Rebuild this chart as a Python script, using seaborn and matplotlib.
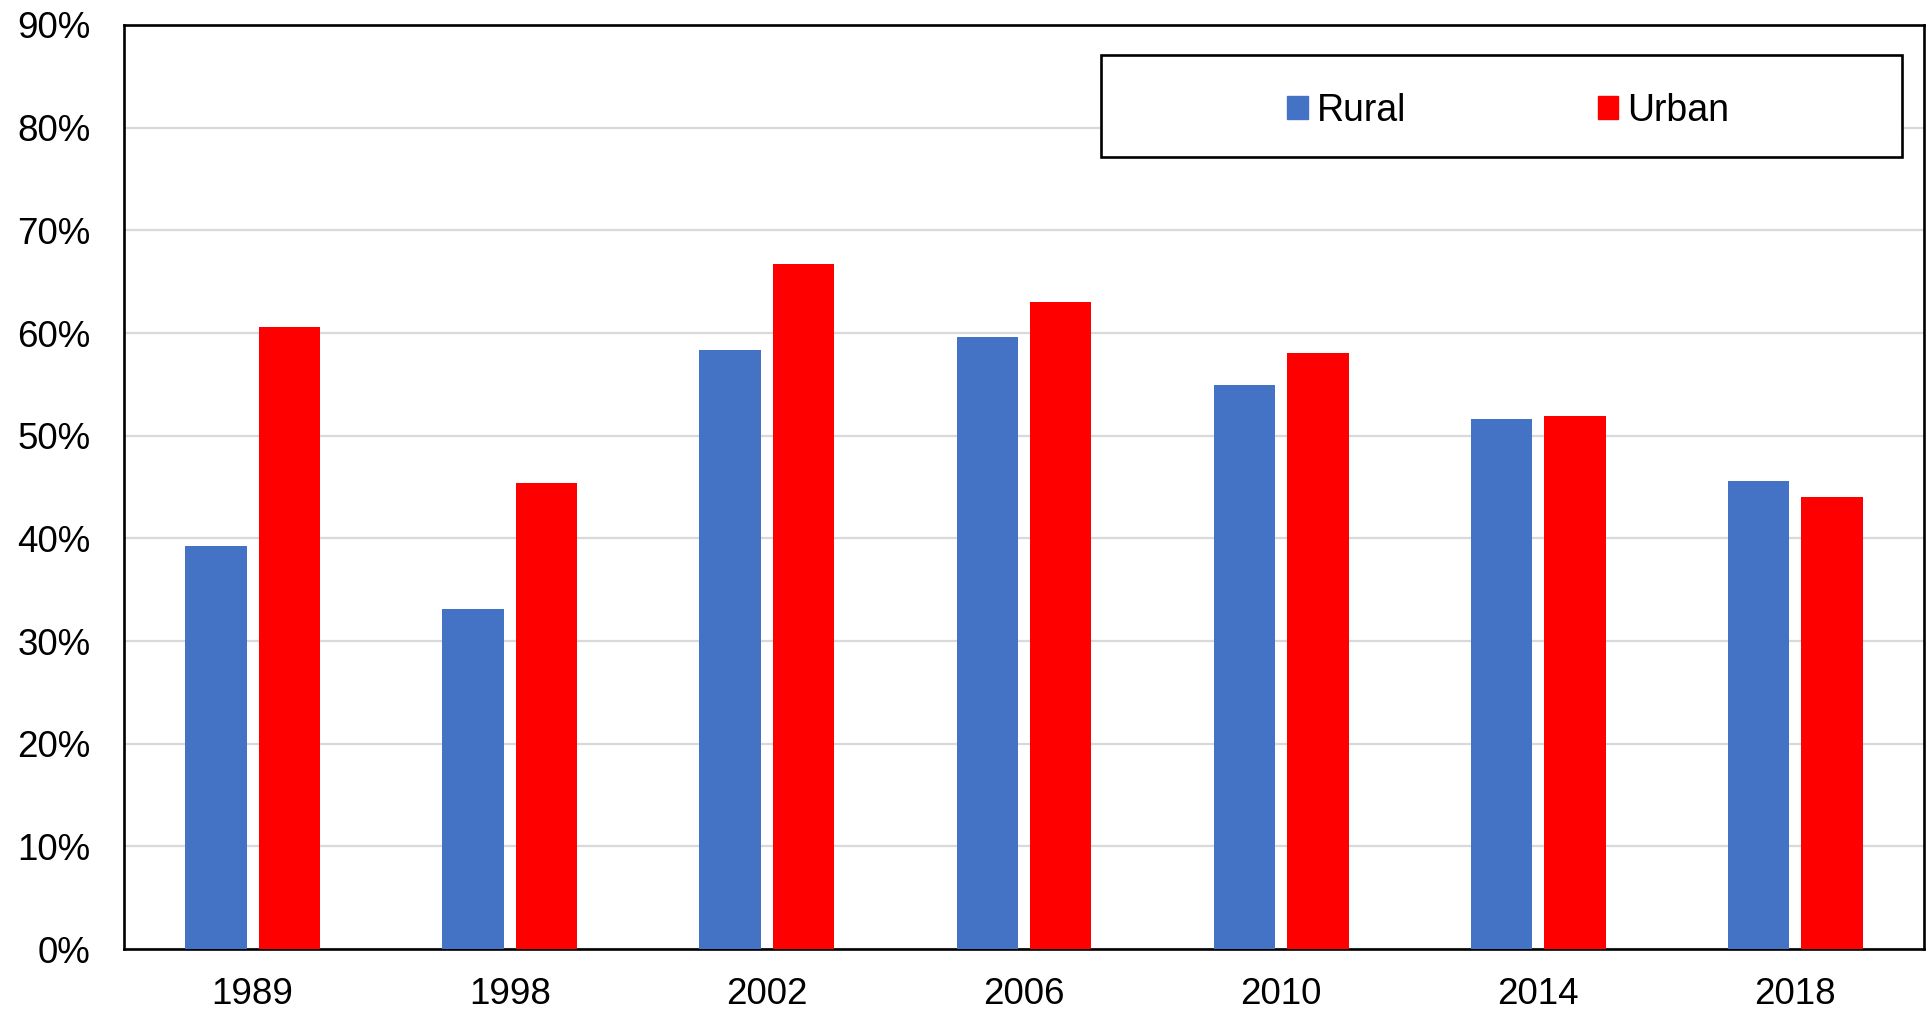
import pandas as pd
import matplotlib
matplotlib.use("Agg")
import matplotlib.pyplot as plt
import seaborn as sns
from matplotlib.patches import Rectangle
from matplotlib.ticker import PercentFormatter

years = ["1989", "1998", "2002", "2006", "2010", "2014", "2018"]
rural = [0.393, 0.331, 0.583, 0.596, 0.549, 0.516, 0.456]
urban = [0.606, 0.454, 0.667, 0.630, 0.581, 0.519, 0.440]
groups = ["Rural", "Urban"]
colors = ["#4472C4", "#FF0000"]

df = pd.DataFrame({"Year": years * 2,
                   "Area": ["Rural"] * len(years) + ["Urban"] * len(years),
                   "Share": rural + urban})

sns.set_style("white")
plt.rcParams["font.family"] = ["Liberation Sans", "DejaVu Sans"]
plt.rcParams["text.color"] = "black"
plt.rcParams["xtick.color"] = "black"
plt.rcParams["ytick.color"] = "black"

fig = plt.figure(figsize=(19.29, 10.13), dpi=100)
ax = fig.add_axes([124 / 1929, 1 - 949 / 1013, 1800 / 1929, 924 / 1013])

sns.barplot(data=df, x="Year", y="Share", hue="Area", hue_order=groups,
            palette=colors, width=0.572, gap=0.165, saturation=1,
            edgecolor="none", ax=ax, zorder=3)

ax.set_xlim(-0.5, len(years) - 0.5)
ax.set_ylim(0, 0.9)
ax.set_yticks([i / 10 for i in range(10)])
ax.yaxis.set_major_formatter(PercentFormatter(1.0, decimals=0))
ax.grid(axis="y", color="#d9d9d9", linewidth=1.6, zorder=0)
ax.set_axisbelow(True)
ax.set_xlabel("")
ax.set_ylabel("")
ax.tick_params(axis="y", length=0, pad=24, labelsize=26.5, labelcolor="black")
ax.tick_params(axis="x", length=0, pad=20, labelsize=26.5, labelcolor="black")
for s in ax.spines.values():
    s.set_color("black")
    s.set_linewidth(1.9)

# legend box
ax.add_patch(Rectangle((0.543, 0.857), 0.445, 0.1105, transform=ax.transAxes,
                       facecolor="white", edgecolor="black", linewidth=1.9, zorder=5))
ax.legend_.remove()
handles = [Rectangle((0, 0), 1, 1, color=c) for c in colors]
leg = ax.legend(handles, groups, loc="center", bbox_to_anchor=(0.769, 0.907),
                ncol=2, frameon=False, fontsize=27, handlelength=0.55,
                handleheight=0.55, handletextpad=0.25, columnspacing=5.1)
for t in leg.get_texts():
    t.set_color("black")
leg.set_zorder(6)

fig.savefig("out.png", dpi=100)
